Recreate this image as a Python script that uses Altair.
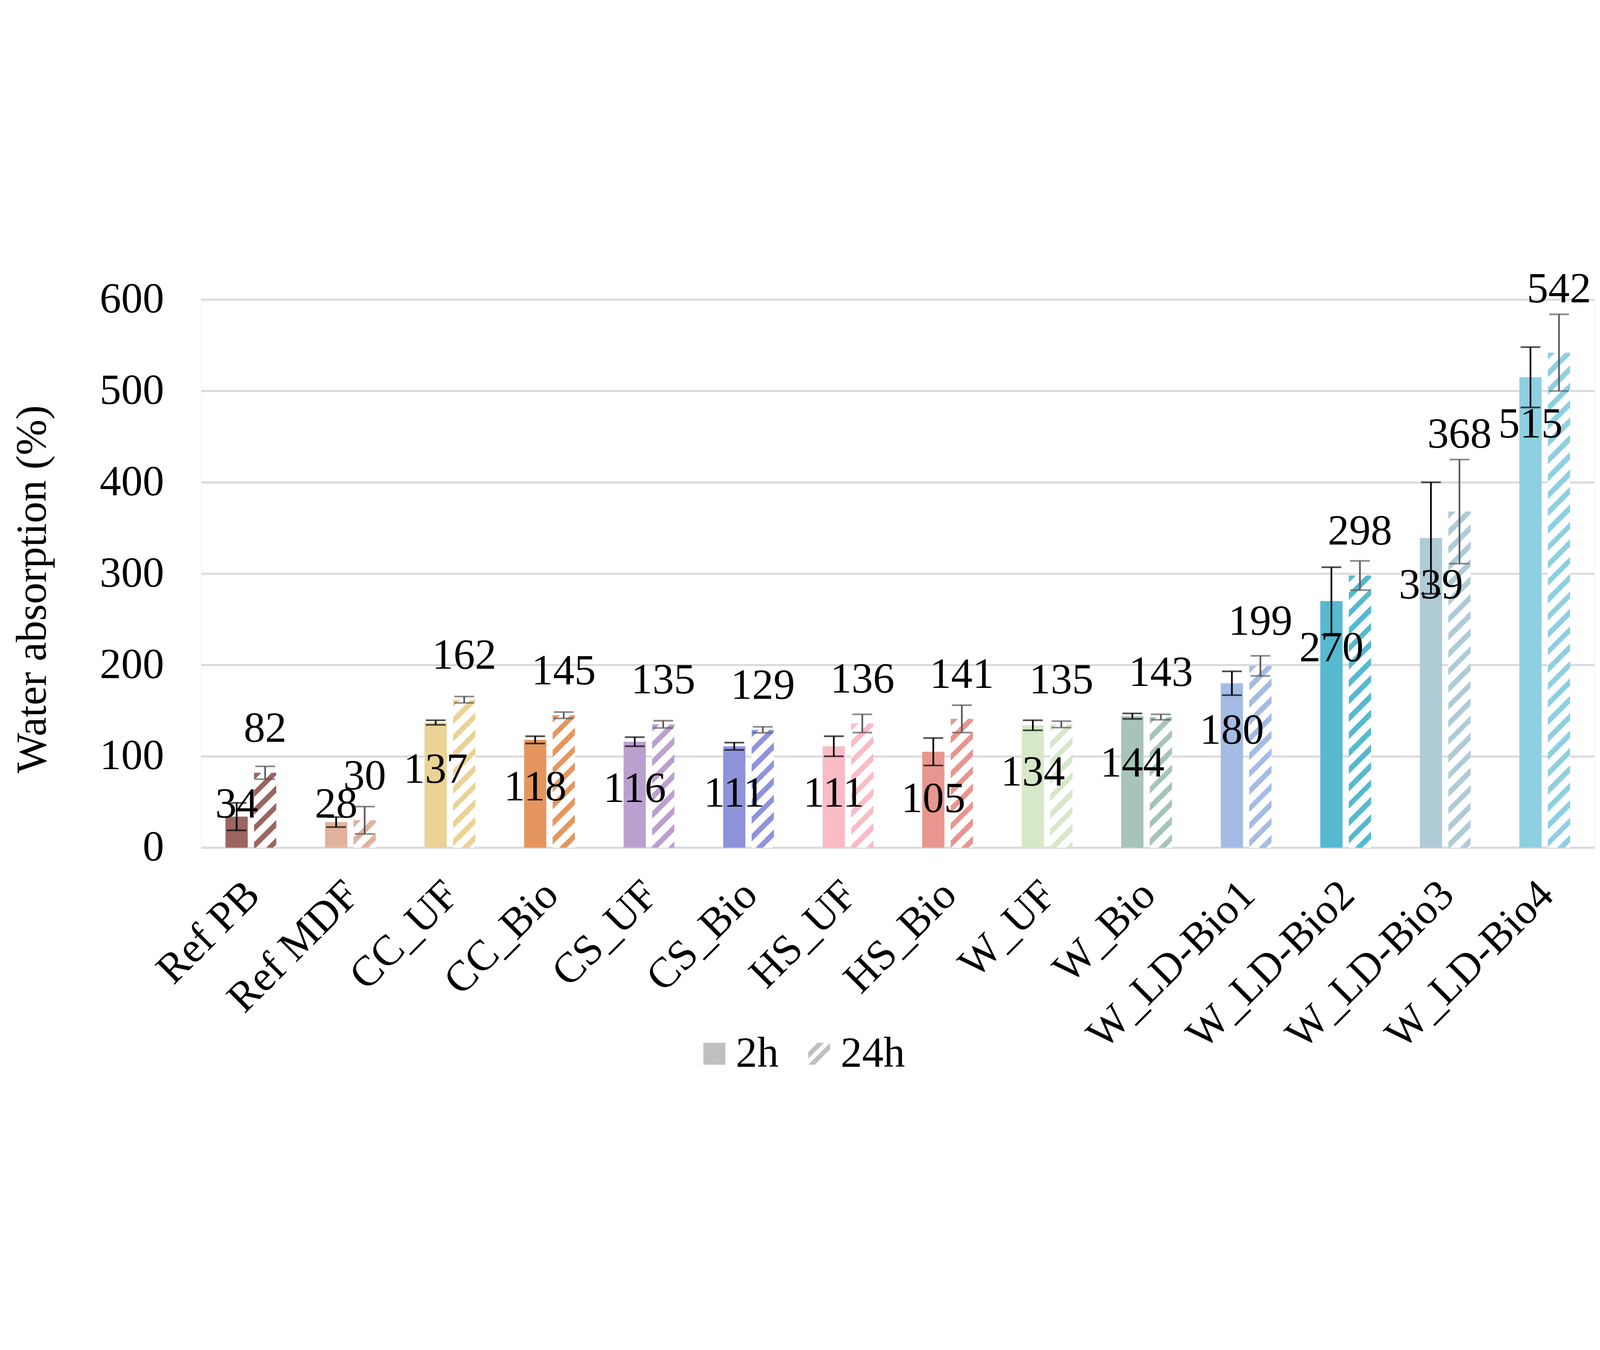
import altair as alt
import pandas as pd

categories = ["Ref PB", "Ref MDF", "CC_UF", "CC_Bio", "CS_UF", "CS_Bio", "HS_UF",
              "HS_Bio", "W_UF", "W_Bio", "W_LD-Bio1", "W_LD-Bio2", "W_LD-Bio3", "W_LD-Bio4"]
wa_2h = [34, 28, 137, 118, 116, 111, 111, 105, 134, 144, 180, 270, 339, 515]
wa_24h = [82, 30, 162, 145, 135, 129, 136, 141, 135, 143, 199, 298, 368, 542]
err_2h = [15, 5.5, 2.5, 4, 5, 4, 11, 15, 5.5, 3, 13, 37, 61, 33]
err_24h = [7, 15, 3.5, 3.5, 4, 3.3, 10, 15, 3.5, 3, 11, 16, 57, 42]
bar_colors = ["#9b6660", "#e2b29c", "#ebd295", "#e5965f", "#baa0cf", "#8e93dc", "#fabbc5",
              "#e8968f", "#d6e8c8", "#a6c4b8", "#a4bce4", "#55b9d0", "#aecbd6", "#8ecfe2"]
times = ["2h", "24h"]
y_ticks = [0, 100, 200, 300, 400, 500, 600]

FONT = "Liberation Serif"
FS = 180
W, H = 5848, 2300
Y_MAX = 600

rows = []
for i, c in enumerate(categories):
    rows.append({"cat": c, "time": "2h", "v": wa_2h[i], "e": err_2h[i]})
    rows.append({"cat": c, "time": "24h", "v": wa_24h[i], "e": err_24h[i]})
df = pd.DataFrame(rows)

x_enc = alt.X("cat:N", sort=categories,
              scale=alt.Scale(domain=categories, paddingInner=0.49, paddingOuter=0.245),
              axis=alt.Axis(title=None, labelAngle=-45, labelAlign="right", labelBaseline="middle",
                            labelFont=FONT, labelFontSize=FS, labelColor="black", labelLimit=3000,
                            labelPadding=170, labelOffset=8, ticks=False, domainColor="#d9d9d9",
                            domainWidth=8, grid=False))
xo_enc = alt.XOffset("time:N", sort=times, scale=alt.Scale(domain=times, paddingInner=0.22, paddingOuter=0))
y_scale = alt.Scale(domain=[0, Y_MAX], nice=False, zero=True)
y_enc = alt.Y("v:Q", scale=y_scale,
              axis=alt.Axis(title="Water absorption (%)", values=y_ticks, labelFont=FONT, labelFontSize=FS,
                            labelColor="black", labelPadding=156, labelLimit=3000, ticks=False, domain=False,
                            gridColor="#d9d9d9", gridWidth=8, titleFont=FONT, titleFontSize=FS,
                            titleFontWeight="normal", titleColor="black", titleX=-706, titleY=1215,
                            titleAngle=-90, titleAlign="center", titleBaseline="middle"))

base = alt.Chart(df)

# solid 2h bars
solid = base.transform_filter("datum.time == '2h'").mark_bar().encode(
    x=x_enc, xOffset=xo_enc, y=y_enc,
    color=alt.Color("cat:N", scale=alt.Scale(domain=categories, range=bar_colors), legend=None),
)

# hatched 24h bars, one layer per category (diagonal stripes via gradient)
step = W / 14.0
band = step * (1 - 0.49)
bar_w = band / (2 - 0.22) * (1 - 0.22)
PERIOD = 73.0
FRAC = 0.42


def hatch(color, h, w):
    s = (w + h) / (w * w + h * h)
    p = PERIOD / (w + h)
    stops = []
    k = 0
    while k * p < 1:
        a = k * p
        b = min(a + FRAC * p, 1.0)
        c = min((k + 1) * p, 1.0)
        stops += [alt.GradientStop(offset=a, color=color), alt.GradientStop(offset=b, color=color),
                  alt.GradientStop(offset=b, color="#ffffff"), alt.GradientStop(offset=c, color="#ffffff")]
        k += 1
    return alt.LinearGradient(gradient="linear", stops=stops, x1=0, y1=0, x2=s * w, y2=s * h)


hatched_layers = []
for i, c in enumerate(categories):
    h = wa_24h[i] / Y_MAX * H
    layer = base.transform_filter(
        alt.FieldEqualPredicate(field="cat", equal=c)
    ).transform_filter("datum.time == '24h'").mark_bar(fill=hatch(bar_colors[i], h, bar_w)).encode(
        x=x_enc, xOffset=xo_enc, y=y_enc
    )
    hatched_layers.append(layer)

# error bars
err_layers = []
for t, col in [("2h", "#000000"), ("24h", "#595959")]:
    sub = base.transform_filter(f"datum.time == '{t}'").transform_calculate(
        lo="datum.v - datum.e", hi="datum.v + datum.e")
    rule = sub.mark_rule(color=col, strokeWidth=7).encode(
        x=x_enc, xOffset=xo_enc, y=alt.Y("lo:Q", scale=y_scale), y2="hi:Q")
    cap_lo = sub.mark_tick(color=col, thickness=7, size=83, orient="horizontal").encode(
        x=x_enc, xOffset=xo_enc, y=alt.Y("lo:Q", scale=y_scale))
    cap_hi = sub.mark_tick(color=col, thickness=7, size=83, orient="horizontal").encode(
        x=x_enc, xOffset=xo_enc, y=alt.Y("hi:Q", scale=y_scale))
    err_layers += [rule, cap_lo, cap_hi]

# value labels
labels = base.transform_calculate(
    ly="datum.time == '2h' ? max(datum.v - 52, 47) : max(datum.v + 48, datum.v + datum.e + 27)"
).mark_text(font=FONT, fontSize=FS, color="black", baseline="middle", align="center").encode(
    x=x_enc, xOffset=xo_enc, y=alt.Y("ly:Q", scale=y_scale), text=alt.Text("v:Q", format="d"))

# legend (invisible points carrying the legend symbols)
square_path = "M-1,-1H1V1H-1Z"
hatch_path = "M-1,-0.15L-0.15,-1L0.45,-1L-1,0.45Z M-1,1L1,-1L1,-0.4L-0.4,1Z"
legend_pts = base.mark_point(filled=True, fill="#bfbfbf", opacity=0, strokeWidth=0).encode(
    x=x_enc, xOffset=xo_enc, y=y_enc,
    shape=alt.Shape("time:N", sort=times, scale=alt.Scale(domain=times, range=[square_path, hatch_path]),
                    legend=alt.Legend(title=None, orient="none", direction="horizontal",
                                      legendX=2064, legendY=3075, symbolSize=8464, symbolOpacity=1,
                                      symbolFillColor="#bfbfbf", symbolStrokeWidth=0,
                                      labelFont=FONT, labelFontSize=FS, labelColor="black",
                                      labelOffset=0, columnPadding=80, padding=0, labelLimit=3000)))

chart = alt.layer(solid, *hatched_layers, *err_layers, labels, legend_pts).properties(
    width=W, height=H,
    autosize=alt.AutoSizeParams(type="pad"),
    padding={"left": 35, "top": 19, "right": 10, "bottom": 10},
).configure_view(stroke=None).configure(background="white")

chart.save("out.html", embed_options={"renderer": "svg", "actions": False})
